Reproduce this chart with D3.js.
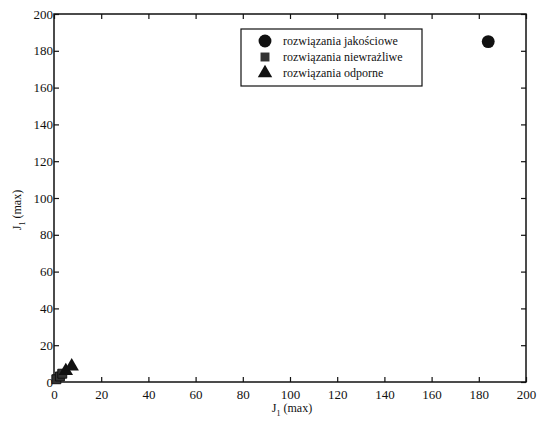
<!DOCTYPE html>
<html>
<head>
<meta charset="utf-8">
<script src="https://cdn.jsdelivr.net/npm/d3@7"></script>
<style>
  body { margin: 0; background: #fff; }
  text { font-family: "Liberation Serif", "DejaVu Serif", serif; fill: #111; }
</style>
</head>
<body>
<svg id="chart" width="541" height="426"></svg>
<script>
// values
const qualitySolutions = [[184, 185]];                          // rozwiązania jakościowe (circles)
const insensitiveSolutions = [[1, 1.5], [2.5, 3], [3.5, 4.5]];  // rozwiązania niewrażliwe (squares)
const robustSolutions = [[5, 6], [7.5, 8.5]];                   // rozwiązania odporne (triangles)
const xTicks = [0, 20, 40, 60, 80, 100, 120, 140, 160, 180, 200];
const yTicks = [0, 20, 40, 60, 80, 100, 120, 140, 160, 180, 200];
const legendLabels = ["rozwiązania jakościowe", "rozwiązania niewrażliwe", "rozwiązania odporne"];

const svg = d3.select("#chart");
const margin = { left: 54, top: 14, right: 15, bottom: 44 };
const width = 541 - margin.left - margin.right;
const height = 426 - margin.top - margin.bottom;

const x = d3.scaleLinear().domain([0, 200]).range([0, width]);
const y = d3.scaleLinear().domain([0, 200]).range([height, 0]);

const g = svg.append("g").attr("transform", `translate(${margin.left},${margin.top})`);

// frame
g.append("rect").attr("width", width).attr("height", height)
  .attr("fill", "none").attr("stroke", "#111").attr("stroke-width", 1.5);

const xAxis = g.append("g").attr("transform", `translate(0,${height})`)
  .call(d3.axisBottom(x).tickValues(xTicks).tickSize(-5).tickPadding(8));
const xTop = g.append("g")
  .call(d3.axisTop(x).tickValues(xTicks).tickSize(-5).tickFormat(""));
const yAxis = g.append("g")
  .call(d3.axisLeft(y).tickValues(yTicks).tickSize(-5).tickPadding(3));
const yRight = g.append("g").attr("transform", `translate(${width},0)`)
  .call(d3.axisRight(y).tickValues(yTicks).tickSize(-5).tickFormat(""));

[xAxis, xTop, yAxis, yRight].forEach(a => {
  a.select(".domain").remove();
  a.selectAll("line").attr("stroke", "#111").attr("stroke-width", 1.2);
  a.selectAll("text").style("font-size", "13px").attr("font-family", null);
});
yAxis.selectAll("text").attr("dx", "2");

// axis labels
svg.append("text").attr("x", 292).attr("y", 412).attr("text-anchor", "middle")
  .style("font-size", "12px")
  .html('J<tspan dy="4" font-size="8">1</tspan><tspan dy="-4">  (max)</tspan>');
svg.append("text").attr("transform", "translate(21,210) rotate(-90)").attr("text-anchor", "middle")
  .style("font-size", "12px")
  .html('J<tspan dy="4" font-size="8">1</tspan><tspan dy="-4">  (max)</tspan>');

// markers
const symCircle = d3.symbol().type(d3.symbolCircle).size(130);
const symSquare = d3.symbol().type(d3.symbolSquare).size(80);
const symTriangle = d3.symbol().type(d3.symbolTriangle).size(90);

g.selectAll(".sq").data(insensitiveSolutions).join("path")
  .attr("transform", d => `translate(${x(d[0])},${y(d[1])})`)
  .attr("d", symSquare).attr("fill", "#333").attr("stroke", "#111");
g.selectAll(".tri").data(robustSolutions).join("path")
  .attr("transform", d => `translate(${x(d[0])},${y(d[1])})`)
  .attr("d", symTriangle).attr("fill", "#111");
g.selectAll(".circ").data(qualitySolutions).join("path")
  .attr("transform", d => `translate(${x(d[0])},${y(d[1])})`)
  .attr("d", symCircle).attr("fill", "#111");

// legend
const legend = svg.append("g").attr("transform", "translate(241,29)");
legend.append("rect").attr("width", 181).attr("height", 57)
  .attr("fill", "#fff").attr("stroke", "#111").attr("stroke-width", 1.2);
const legendSymbols = [symCircle, symSquare, symTriangle];
const legendFills = ["#111", "#333", "#111"];
legendLabels.forEach((label, i) => {
  const row = legend.append("g").attr("transform", `translate(0,${12 + i * 16})`);
  row.append("path").attr("transform", "translate(24,0)").attr("d", legendSymbols[i])
    .attr("fill", legendFills[i]);
  row.append("text").attr("x", 42).attr("y", 4).style("font-size", "12px").text(label);
});
</script>
</body>
</html>
